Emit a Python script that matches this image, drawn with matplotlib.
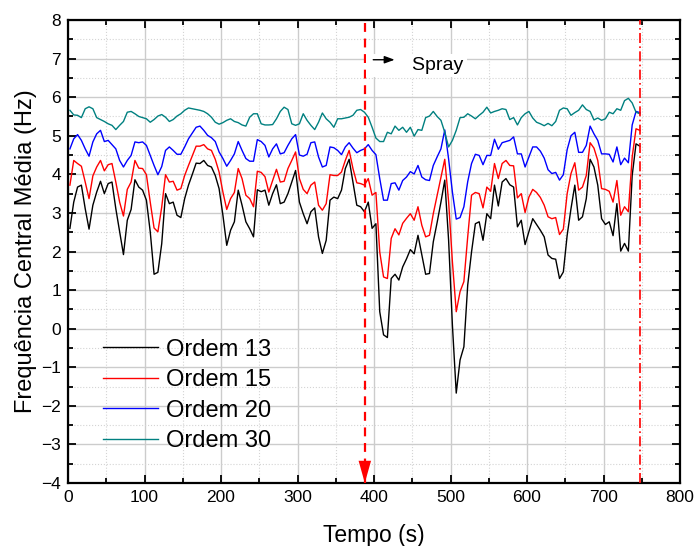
import matplotlib
matplotlib.use("Agg")
import matplotlib.pyplot as plt
import numpy as np
from matplotlib.ticker import MultipleLocator

plt.rcParams["font.family"] = ["Liberation Sans", "DejaVu Sans"]

# ── Data (one sample every 5 s) ─────────────────────────────────────
tempo = np.arange(150) * 5.0 + 2.5

ordem_13 = [
    2.60, 3.28, 3.67, 3.72, 3.11, 2.58, 3.20, 3.54, 3.82, 3.50, 3.76, 3.80, 3.11,
    2.51, 1.92, 2.81, 3.09, 3.86, 3.67, 3.59, 3.33, 2.51, 1.41, 1.46, 2.20, 3.50,
    3.24, 3.28, 2.94, 2.88, 3.37, 3.72, 4.00, 4.29, 4.28, 4.36, 4.23, 4.19, 3.97,
    3.63, 2.94, 2.16, 2.55, 2.77, 3.59, 3.20, 2.77, 2.59, 2.38, 3.60, 3.55,
    3.59, 3.20, 3.50, 3.73, 3.24, 3.28, 3.50, 3.80, 4.10, 3.28, 2.98, 2.72, 3.03,
    3.13, 2.38, 1.95, 2.29, 3.33, 3.41, 3.37, 3.59, 4.15, 4.39, 3.80,
    3.20, 3.16, 3.03, 3.28, 2.60, 2.72, 0.44, -0.16, -0.23, 1.30, 1.41, 1.26, 1.60,
    1.81, 2.05, 1.94, 2.42, 1.91, 1.41, 1.43, 2.25, 2.75, 3.28, 3.85, 2.30,
    0.09, -1.67, -0.81, -0.47, 1.13, 1.99, 2.72, 2.77, 2.29, 2.98, 2.85, 3.72,
    3.18, 3.80, 3.89, 3.73, 3.67, 2.64, 2.81, 2.18, 2.51, 2.85, 2.70,
    2.55, 2.38, 1.91, 1.82, 1.80, 1.30, 1.47, 2.42, 3.11, 3.72, 2.81, 2.90, 3.37,
    4.39, 4.19, 3.72, 2.85, 2.70, 2.77, 2.41, 3.24, 2.01, 2.21, 2.01, 3.97, 4.79, 4.73,
]
ordem_15 = [
    3.72, 4.36, 4.28, 4.21, 3.80, 3.37, 3.96, 4.19, 4.36, 4.09, 4.25, 4.28, 3.80,
    3.28, 2.92, 3.61, 3.80, 4.36, 4.16, 4.15, 3.99, 3.28, 2.61, 2.51, 3.15, 3.99,
    3.80, 3.82, 3.59, 3.63, 3.97, 4.23, 4.48, 4.73, 4.73, 4.77, 4.66, 4.62, 4.39,
    4.06, 3.54, 3.09, 3.37, 3.53, 4.15, 3.89, 3.46, 3.37, 3.16, 4.08, 4.05,
    3.94, 3.54, 3.84, 4.13, 3.80, 3.82, 4.15, 4.36, 4.58, 3.89, 3.61, 3.50, 3.72,
    3.80, 3.20, 3.07, 3.24, 3.99, 3.97, 3.97, 4.06, 4.36, 4.62, 4.15,
    3.78, 3.76, 3.72, 3.89, 3.46, 3.53, 1.99, 1.34, 1.30, 2.34, 2.59, 2.43, 2.73,
    2.86, 2.98, 2.81, 3.16, 2.68, 2.38, 2.42, 2.98, 3.45, 3.93, 4.39, 3.30,
    1.73, 0.44, 0.96, 1.22, 2.38, 3.46, 3.53, 3.50, 3.13, 3.67, 3.56, 4.28,
    3.89, 4.28, 4.36, 4.23, 4.22, 3.39, 3.50, 3.01, 3.41, 3.61, 3.53,
    3.40, 3.20, 2.90, 2.85, 2.88, 2.44, 2.58, 3.50, 4.02, 4.30, 3.59, 3.67, 3.97,
    4.82, 4.68, 4.36, 3.63, 3.61, 3.56, 3.28, 3.84, 2.94, 3.16, 3.03, 4.45, 5.18, 5.14,
]
ordem_20 = [
    4.66, 4.92, 5.03, 4.88, 4.66, 4.47, 4.84, 5.05, 5.14, 4.85, 4.88, 4.77, 4.66,
    4.36, 4.19, 4.36, 4.49, 4.84, 4.82, 4.84, 4.75, 4.49, 4.23, 3.99, 4.20, 4.62,
    4.71, 4.62, 4.52, 4.52, 4.71, 4.92, 5.07, 5.22, 5.25, 5.14, 5.01, 4.95, 4.85,
    4.58, 4.41, 4.21, 4.36, 4.53, 4.85, 4.62, 4.41, 4.34, 4.34, 4.90, 4.85,
    4.75, 4.45, 4.66, 4.79, 4.53, 4.56, 4.75, 4.92, 5.03, 4.50, 4.47, 4.52, 4.82,
    4.84, 4.45, 4.19, 4.23, 4.71, 4.69, 4.62, 4.51, 4.71, 4.82, 4.68,
    4.56, 4.62, 4.66, 4.77, 4.62, 4.51, 3.89, 3.33, 3.33, 3.76, 3.78, 3.59, 3.84,
    3.93, 4.07, 4.01, 4.23, 3.93, 3.86, 3.84, 4.23, 4.45, 4.66, 5.15, 4.40,
    3.54, 2.84, 2.88, 3.16, 3.81, 4.28, 4.52, 4.49, 4.25, 4.49, 4.49, 4.91,
    4.65, 4.82, 4.85, 4.88, 4.97, 4.53, 4.53, 4.19, 4.45, 4.71, 4.71,
    4.60, 4.42, 4.12, 4.02, 4.05, 3.85, 3.99, 4.64, 5.00, 5.09, 4.57, 4.57, 4.75,
    5.25, 5.05, 4.88, 4.53, 4.53, 4.52, 4.32, 4.71, 4.25, 4.42, 4.30, 5.28, 5.63, 5.60,
]
ordem_30 = [
    5.66, 5.54, 5.53, 5.47, 5.70, 5.75, 5.70, 5.47, 5.42, 5.37, 5.31, 5.27, 5.16,
    5.27, 5.37, 5.61, 5.63, 5.57, 5.50, 5.47, 5.44, 5.35, 5.42, 5.51, 5.55, 5.48,
    5.37, 5.42, 5.51, 5.57, 5.66, 5.72, 5.70, 5.68, 5.66, 5.63, 5.57, 5.48, 5.35,
    5.30, 5.34, 5.40, 5.44, 5.37, 5.34, 5.28, 5.25, 5.48, 5.57, 5.57, 5.31,
    5.28, 5.28, 5.29, 5.44, 5.63, 5.74, 5.68, 5.31, 5.27, 5.31, 5.57, 5.40, 5.27,
    5.16, 5.35, 5.59, 5.44, 5.35, 5.22, 5.44, 5.44, 5.46, 5.48, 5.53,
    5.66, 5.68, 5.61, 5.48, 5.22, 4.94, 4.85, 4.85, 5.09, 5.05, 5.25, 5.14, 5.22,
    5.09, 5.22, 4.99, 5.16, 5.14, 5.47, 5.51, 5.63, 5.50, 5.40, 5.09, 4.71,
    4.88, 5.14, 5.47, 5.48, 5.57, 5.51, 5.44, 5.53, 5.61, 5.74, 5.59, 5.63,
    5.66, 5.70, 5.68, 5.42, 5.47, 5.28, 5.47, 5.57, 5.63, 5.46, 5.35,
    5.31, 5.26, 5.32, 5.26, 5.37, 5.66, 5.72, 5.70, 5.53, 5.60, 5.66, 5.80, 5.68,
    5.63, 5.41, 5.46, 5.40, 5.44, 5.61, 5.57, 5.70, 5.66, 5.91, 5.97, 5.85, 5.61, 5.57,
]

series_labels = ["Ordem 13", "Ordem 15", "Ordem 20", "Ordem 30"]
series_colors = ["black", "#ff0000", "#0000ff", "#008080"]

spray_start = 388.0   # dashed line, start of spray
spray_end = 748.0     # dash-dot line, end of record
spray_label = "Spray"

# ── Figure ───────────────────────────────────────────────────────────
fig = plt.figure(figsize=(6.95, 5.46), dpi=100)
ax = fig.add_axes([68 / 695, 63 / 546, 612 / 695, 463 / 546])

for values, label, color in zip(
    [ordem_13, ordem_15, ordem_20, ordem_30], series_labels, series_colors,
):
    ax.plot(tempo, values, color=color, linewidth=1.0, label=label, zorder=3)

ax.set_xlim(0, 800)
ax.set_ylim(-4, 8)
ax.xaxis.set_major_locator(MultipleLocator(100))
ax.xaxis.set_minor_locator(MultipleLocator(50))
ax.yaxis.set_major_locator(MultipleLocator(1))
ax.yaxis.set_minor_locator(MultipleLocator(0.5))

ax.grid(True, which="major", color="#cccccc", linewidth=1.0, linestyle="-", zorder=0)
ax.grid(True, which="minor", color="#d4d4d4", linewidth=0.8, linestyle=":", zorder=0)
ax.set_axisbelow(True)

ax.tick_params(which="both", direction="in", top=True, right=True,
               labelsize=12.5, width=1.3, pad=5)
ax.tick_params(which="major", length=6)
ax.tick_params(which="minor", length=3.5)
for spine in ax.spines.values():
    spine.set_linewidth(1.6)

ax.set_xlabel("Tempo (s)", fontsize=16.5, labelpad=14)
ax.set_ylabel("Frequência Central Média (Hz)", fontsize=17, labelpad=3)

# spray markers
ax.axvline(spray_start, color="#ff0000", linestyle=(0, (4, 3)), linewidth=1.6, zorder=4)
ax.axvline(spray_end, color="#ff0000", linestyle=(0, (6, 2, 1, 2)), linewidth=1.2, zorder=4)
ax.annotate(
    "", xy=(spray_start, -4), xytext=(spray_start, -3.4),
    arrowprops=dict(arrowstyle="-|>,head_length=1.6,head_width=0.45",
                    color="#ff0000", lw=0, shrinkA=0, shrinkB=0),
    annotation_clip=False, zorder=5,
)
# white label box (leading spaces leave room for the arrow)
ax.text(394, 6.82, " " * 8 + spray_label, ha="left", va="center", fontsize=14,
        bbox=dict(boxstyle="square,pad=0.15", fc="white", ec="none"), zorder=5)
ax.annotate(
    "", xy=(427, 6.97), xytext=(399, 6.97),
    arrowprops=dict(arrowstyle="-|>,head_length=0.6,head_width=0.22",
                    color="black", lw=1.0, shrinkA=0, shrinkB=0),
    zorder=6,
)

leg = ax.legend(
    loc="upper left", bbox_to_anchor=(0.058, 0.312), frameon=False,
    fontsize=17, handlelength=2.3, handletextpad=0.35, labelspacing=0.36,
    borderpad=0, borderaxespad=0,
)

fig.savefig("out.png", dpi=100)
